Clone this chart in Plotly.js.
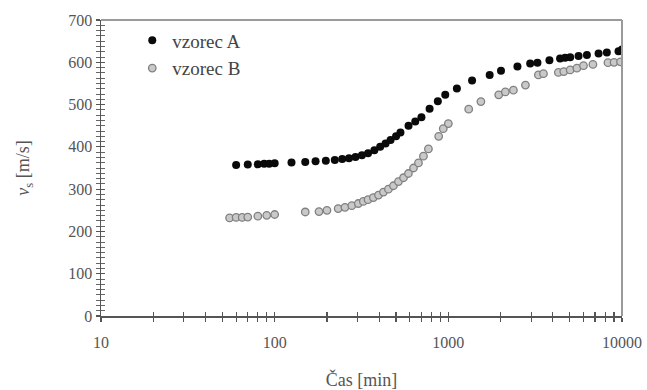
<!DOCTYPE html>
<html>
<head>
<meta charset="utf-8">
<script src="https://cdn.plot.ly/plotly-3.0.1.min.js"></script>
<style>html,body{margin:0;padding:0;background:#fff;}#chart{width:647px;height:390px;}</style>
</head>
<body>
<div id="chart"></div>
<script>
// ---- data ----
const seriesNames = ['vzorec A', 'vzorec B'];

const timeA = [60, 70, 80, 87, 93, 100, 125, 150, 172, 197, 222, 245, 268, 292, 318, 345, 375, 405, 435, 465, 500, 530,
  590, 645, 700, 780, 870, 960, 1120, 1370, 1730, 2010, 2500, 2960, 3260, 3820, 4400, 4700, 5030, 5620, 6280, 7330, 8180, 9550, 10000];
const speedA = [357, 358, 359, 360, 360, 361, 363, 364, 366, 367, 369, 371, 373, 376, 380, 385, 392, 400, 408, 416, 425, 434,
  450, 460, 470, 490, 508, 523, 538, 557, 570, 580, 590, 597, 599, 605, 609, 611, 612, 615, 617, 621, 623, 626, 630];

const timeB = [55, 60, 65, 70, 80, 90, 100, 150, 180, 200, 232, 254, 278, 303, 324, 345, 370, 396, 423, 452, 483, 516, 552, 589,
  630, 673, 719, 768, 880, 935, 1000, 1310, 1540, 1950, 2130, 2370, 2780, 3300, 3530, 4300, 4620, 5030, 5500, 6000, 6800, 8300, 9000, 9800];
const speedB = [232, 233, 233, 234, 236, 238, 240, 246, 247, 250, 254, 257, 261, 266, 271, 275, 280, 286, 293, 300, 308, 318, 327, 337,
  350, 362, 378, 395, 425, 443, 455, 489, 507, 523, 530, 534, 546, 570, 573, 576, 578, 582, 586, 592, 595, 599, 600, 601];

const xDecades = [10, 100, 1000, 10000];
const xDecadeLabels = ['10', '100', '1000', '10000'];
const yTickVals = [0, 100, 200, 300, 400, 500, 600, 700];
const yTickLabels = ['0', '100', '200', '300', '400', '500', '600', '700'];

// ---- build log tick list (labels only on decades) ----
const xTicks = [], xTickText = [];
xDecades.forEach((d, i) => {
  for (let m = 1; m <= 9; m++) {
    if (i === xDecades.length - 1 && m > 1) break;
    xTicks.push(d * m);
    xTickText.push(m === 1 ? xDecadeLabels[i] : '');
  }
});

const serif = '"Liberation Serif", "Times New Roman", serif';
const txt = '#555';

const traces = [
  {x: timeA, y: speedA, name: seriesNames[0], type: 'scatter', mode: 'markers', legendgroup: 'a',
   marker: {color: '#0a0a0a', size: 8, line: {width: 0}}},
  {x: timeB, y: speedB, name: seriesNames[1], type: 'scatter', mode: 'markers', legendgroup: 'b',
   marker: {color: '#c9c9c9', size: 7.5, line: {color: '#808080', width: 1.3}}},
  // empty helper trace so the inner-tick overlay axes are drawn
  {x: [], y: [], type: 'scatter', mode: 'markers', xaxis: 'x2', yaxis: 'y2', showlegend: false, hoverinfo: 'skip'}
];

const layout = {
  width: 647, height: 390,
  margin: {l: 101, r: 25, t: 20, b: 74},
  paper_bgcolor: '#fff', plot_bgcolor: '#fff',
  showlegend: true,
  legend: {x: 0.06, y: 0.995, xanchor: 'left', yanchor: 'top', bgcolor: 'rgba(0,0,0,0)',
           font: {family: serif, size: 19, color: '#444'}, traceorder: 'grouped', tracegroupgap: 0, itemwidth: 30},
  xaxis: {type: 'log', range: [1, 4], tickmode: 'array', tickvals: xTicks, ticktext: xTickText,
          ticks: 'outside', ticklen: 4, tickwidth: 1.2, tickcolor: '#555',
          showline: true, linecolor: '#555', linewidth: 1.5, showgrid: false, zeroline: false,
          tickfont: {family: serif, size: 16, color: txt}, ticklabelstandoff: 7,
          title: {text: 'Čas [min]', font: {family: serif, size: 18, color: txt}, standoff: 24}},
  xaxis2: {type: 'log', range: [1, 4], overlaying: 'x', anchor: 'y2', side: 'bottom', tickmode: 'array', tickvals: xTicks,
           showticklabels: false, ticks: 'inside', ticklen: 4, tickwidth: 1.2, tickcolor: '#555',
           showline: false, showgrid: false, zeroline: false},
  yaxis: {range: [0, 700], tickmode: 'array', tickvals: yTickVals, ticktext: yTickLabels,
          ticks: 'outside', ticklen: 4, tickwidth: 1.2, tickcolor: '#555',
          minor: {dtick: 12.5, ticks: 'outside', ticklen: 4, tickwidth: 1, tickcolor: '#666', showgrid: false},
          showline: true, linecolor: '#555', linewidth: 1.5, showgrid: false, zeroline: false,
          tickfont: {family: serif, size: 16, color: txt},
          title: {text: '<i>v</i><sub>s</sub> [m/s]', font: {family: serif, size: 18, color: txt}, standoff: 34}},
  yaxis2: {range: [0, 700], overlaying: 'y', anchor: 'x2', side: 'left', tickmode: 'array', tickvals: yTickVals,
           showticklabels: false, ticks: 'inside', ticklen: 4, tickwidth: 1.2, tickcolor: '#555',
           minor: {dtick: 12.5, ticks: 'inside', ticklen: 4, tickwidth: 1, tickcolor: '#666', showgrid: false},
           showline: false, showgrid: false, zeroline: false},
  shapes: [
    {type: 'line', xref: 'paper', yref: 'paper', x0: 0, x1: 1, y0: 1, y1: 1, line: {color: '#9a9a9a', width: 2}},
    {type: 'line', xref: 'paper', yref: 'paper', x0: 1, x1: 1, y0: 0, y1: 1, line: {color: '#9a9a9a', width: 2}}
  ]
};

Plotly.newPlot('chart', traces, layout, {displayModeBar: false, staticPlot: true});
</script>
</body>
</html>
